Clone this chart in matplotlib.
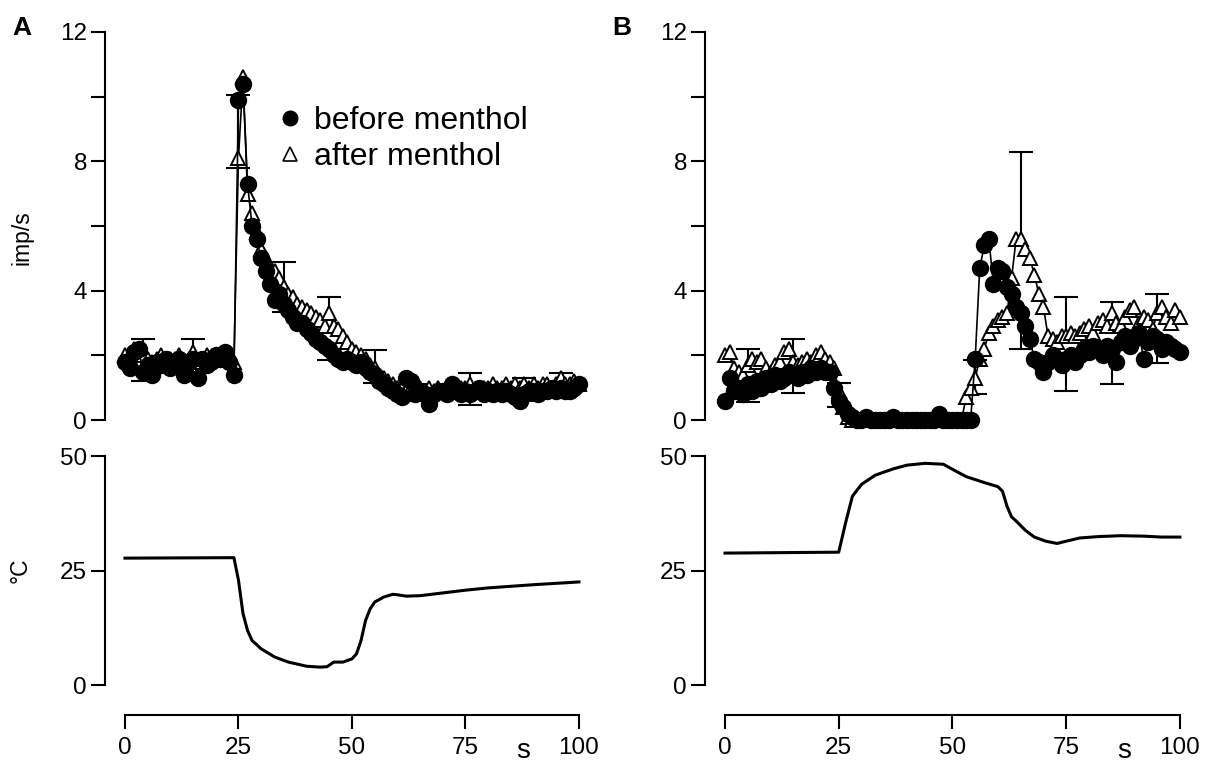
import numpy as np
import matplotlib
matplotlib.use("Agg")
import matplotlib.pyplot as plt
from matplotlib.lines import Line2D

plt.rcParams['font.family'] = ['Liberation Sans', 'DejaVu Sans']

# ---------------- data ----------------
# Panel A: impulse rate (imp/s), 1-s bins from 0 to 100 s
A_BEFORE = [1.8, 1.6, 2.1, 2.2, 1.5, 1.7, 1.4, 1.8, 1.7, 1.9,
            1.6, 1.8, 1.9, 1.4, 1.8, 1.9, 1.3, 1.9, 1.7, 1.8,
            2.0, 1.9, 2.1, 1.8, 1.4,
            9.9, 10.4, 7.3, 6.0, 5.6, 5.0, 4.6, 4.2, 3.7, 3.9,
            3.6, 3.4, 3.2, 3.0, 3.0, 2.8, 2.7, 2.5, 2.4, 2.3,
            2.2, 2.0, 1.9, 1.8, 1.9, 1.8, 1.7, 1.8, 1.6, 1.5,
            1.4, 1.2, 1.1, 1.0, 0.9, 0.8, 0.7, 1.3, 1.2, 0.8,
            0.9, 0.8, 0.5, 0.8, 0.9, 0.9, 0.8, 1.1, 0.9, 0.8,
            0.9, 0.8, 0.9, 1.0, 0.8, 0.9, 0.8, 0.9, 0.8, 0.9,
            0.8, 0.7, 0.6, 0.8, 0.9, 0.9, 0.8, 0.9, 0.9, 1.0,
            0.9, 1.0, 0.9, 0.9, 1.0, 1.1]
A_AFTER = [2.0, 1.9, 2.2, 1.8, 2.0, 1.9, 1.8, 1.9, 2.0, 1.8,
           1.9, 1.9, 2.0, 1.8, 1.9, 2.1, 1.8, 1.9, 2.0, 1.9,
           1.9, 2.0, 1.9, 1.9, 1.8,
           8.1, 10.6, 7.0, 6.4, 5.8, 5.3, 5.0, 4.7, 4.6, 4.4,
           4.1, 3.9, 3.8, 3.6, 3.5, 3.4, 3.3, 3.2, 3.1, 2.9,
           3.3, 2.9, 2.8, 2.6, 2.4, 2.2, 2.1, 2.0, 1.9, 1.7,
           1.6, 1.4, 1.3, 1.2, 1.1, 1.0,
           1.0, 0.9, 1.0, 0.9, 1.0, 0.9, 1.0, 0.9, 1.0, 0.9,
           1.0, 1.0, 0.9, 1.0, 1.0, 1.1, 0.9, 1.0, 1.0, 1.0,
           1.1, 1.0, 1.0, 1.1, 1.0, 1.1, 1.0, 1.1, 1.0, 1.1,
           1.0, 1.1, 1.1, 1.0, 1.1, 1.3, 1.1, 1.1, 1.2, 1.1]

# error bars for panel A (before: downward SEM, after: upward SEM)
ERR_T_A = [4, 15, 25, 35, 45, 55, 64, 76, 88, 96]
ERR_A_BEFORE = [0.3, 0.45, 2.1, 0.25, 0.35, 0.25, 0.2, 0.35, 0.2, 0.2]
ERR_A_AFTER = [0.5, 0.4, 1.96, 0.8, 0.5, 0.55, 0.2, 0.35, 0.2, 0.15]

# Panel B
B_BEFORE = [0.6, 1.3, 0.9, 1.0, 0.8, 1.1, 0.9, 1.2, 1.0, 1.3,
            1.1, 1.4, 1.2, 1.3, 1.5, 1.4, 1.3, 1.5, 1.4, 1.6,
            1.5, 1.6, 1.5, 1.5, 1.0, 0.6,
            0.4, 0.2, 0.1, 0.0, 0.0, 0.1, 0.0, 0.0, 0.0, 0.0,
            0.0, 0.1, 0.0, 0.0, 0.0, 0.0, 0.0, 0.0, 0.0, 0.0,
            0.0, 0.2, 0.0, 0.0, 0.0, 0.0, 0.0, 0.0, 0.0,
            1.9, 4.7, 5.4, 5.6, 4.2, 4.7, 4.6, 4.1, 3.9, 3.5,
            3.3, 2.9, 2.5, 1.9, 1.8, 1.5, 1.8, 2.0, 1.9, 1.7,
            1.9, 2.0, 1.8, 2.0, 2.2, 2.1, 2.3, 2.2, 2.0, 2.3,
            2.2, 1.8, 2.4, 2.6, 2.3, 2.5, 2.7, 1.9, 2.4, 2.6,
            2.5, 2.2, 2.4, 2.3, 2.2, 2.1]
B_AFTER = [2.0, 2.1, 1.6, 1.5, 1.4, 1.7, 1.9, 1.8, 1.9, 1.6,
           1.5, 1.7, 1.8, 2.1, 2.2, 1.8, 1.7, 1.8, 1.9, 1.8,
           2.0, 2.1, 1.9, 1.8, 1.6, 0.9,
           0.4, 0.1, 0.0, 0.0, 0.0, 0.0, 0.0, 0.0, 0.0, 0.0,
           0.0, 0.0, 0.0, 0.0, 0.0, 0.0, 0.0, 0.0, 0.0, 0.0,
           0.0, 0.0, 0.0, 0.0, 0.0, 0.0, 0.0,
           0.7, 1.0, 1.3, 1.9, 2.2, 2.7, 2.9, 3.1, 3.2, 3.3,
           4.4, 5.6, 5.6, 5.3, 5.0, 4.5, 3.9, 3.5, 2.6, 2.5,
           2.4, 2.6, 2.6, 2.7, 2.6, 2.7, 2.8, 2.9, 2.7, 3.0,
           3.1, 2.9, 3.3, 3.0, 2.9, 3.2, 3.4, 3.5, 3.0, 3.2,
           3.1, 2.8, 3.3, 3.5, 3.2, 3.0, 3.4, 3.2]

ERR_T_B = [5, 15, 25, 35, 45, 55, 65, 75, 85, 95]
ERR_B_BEFORE = [0.55, 0.55, 0.2, 0.0, 0.0, 1.1, 1.1, 1.0, 1.1, 0.75]
ERR_B_AFTER = [0.5, 0.7, 0.25, 0.0, 0.0, 0.55, 2.7, 1.2, 0.35, 0.6]

# Stimulus temperature (deg C)
TEMP_A_T = [0, 24, 25, 26, 27, 28, 30, 33, 36, 40, 43, 44.5, 46, 48, 50,
            51, 52, 53, 54, 55, 57, 59, 60, 62, 65, 70, 75, 80, 90, 100]
TEMP_A = [27.7, 27.8, 22.9, 15.6, 11.9, 9.7, 7.9, 6.1, 5.0, 4.1, 3.9, 4.0,
          5.0, 5.0, 5.7, 6.8, 9.7, 14.1, 16.6, 18.1, 19.2, 19.8, 19.7, 19.4,
          19.5, 20.1, 20.7, 21.2, 21.9, 22.5]
TEMP_B_T = [0, 25, 26.5, 28, 30, 33, 37, 40, 44, 48, 50, 53, 57, 60, 61,
            62, 63, 64, 66, 68, 70.5, 73, 75, 78, 82, 87, 92, 96, 100]
TEMP_B = [28.8, 29.0, 35.4, 41.2, 43.8, 45.8, 47.2, 48.0, 48.4, 48.2, 47.1,
          45.5, 44.2, 43.3, 42.3, 39.0, 36.7, 35.8, 33.8, 32.3, 31.4, 30.9,
          31.4, 32.1, 32.4, 32.6, 32.5, 32.3, 32.3]

RATE_TICKS = [0, 4, 8, 12]
RATE_MINOR = [2, 6, 10]
TEMP_TICKS = [0, 25, 50]
TIME_TICKS = [0, 25, 50, 75, 100]

# ---------------- figure ----------------
W, H = 1209, 765
fig = plt.figure(figsize=(W / 100, H / 100), dpi=100)
XL = (-4.4, 102)


def px_axes(left, top, right, bottom):
    return fig.add_axes([left / W, 1 - bottom / H, (right - left) / W, (bottom - top) / H])


def style_rate(ax):
    ax.set_xlim(*XL)
    ax.set_ylim(0, 12)
    for s in ['top', 'right', 'bottom']:
        ax.spines[s].set_visible(False)
    ax.spines['left'].set_linewidth(1.5)
    ax.set_xticks([])
    ax.set_yticks(RATE_TICKS)
    ax.set_yticks(RATE_MINOR, minor=True)
    ax.tick_params(axis='y', which='both', direction='out', length=10,
                   width=1.5, labelsize=17.5, pad=3)


def style_temp(ax):
    ax.set_xlim(*XL)
    ax.set_ylim(0, 50)
    for s in ['top', 'right']:
        ax.spines[s].set_visible(False)
    ax.spines['left'].set_linewidth(1.5)
    ax.spines['bottom'].set_linewidth(1.5)
    ax.spines['bottom'].set_position(('outward', 21.6))
    ax.spines['bottom'].set_bounds(0, 100)
    ax.set_xticks(TIME_TICKS)
    ax.set_yticks(TEMP_TICKS)
    ax.tick_params(axis='y', which='both', direction='out', length=10,
                   width=1.5, labelsize=17.5, pad=3)
    ax.tick_params(axis='x', which='both', direction='out', length=10,
                   width=1.5, labelsize=17.5, pad=6)


def draw_rate(ax, before, after, err_t, err_b, err_a):
    tb = np.arange(len(before))
    ta = np.arange(len(after))
    before = np.asarray(before)
    after = np.asarray(after)
    cap = 2.65
    for t, eb, ea in zip(err_t, err_b, err_a):
        if eb > 0:
            y0 = before[t]
            ax.vlines(t, y0 - eb, y0, color='black', lw=1.5, zorder=2)
            ax.hlines(y0 - eb, t - cap, t + cap, color='black', lw=1.5, zorder=2)
        if ea > 0:
            y0 = after[t]
            ax.vlines(t, y0, y0 + ea, color='black', lw=1.5, zorder=2)
            ax.hlines(y0 + ea, t - cap, t + cap, color='black', lw=1.5, zorder=2)
    ax.plot(ta, after, '-', color='black', lw=1.2, marker='^', ms=9.5,
            mfc='white', mec='black', mew=1.4, zorder=3, clip_on=False)
    ax.plot(tb, before, '-', color='black', lw=1.2, marker='o', ms=11.5,
            mfc='black', mec='black', zorder=4, clip_on=False)


# Panel A
axA = px_axes(105, 32, 588, 420)
style_rate(axA)
draw_rate(axA, A_BEFORE, A_AFTER, ERR_T_A, ERR_A_BEFORE, ERR_A_AFTER)
axAT = px_axes(105, 456, 588, 685)
style_temp(axAT)
axAT.plot(TEMP_A_T, TEMP_A, color='black', lw=2.2, solid_joinstyle='round')

# Panel B
axB = px_axes(705, 32, 1189, 420)
style_rate(axB)
draw_rate(axB, B_BEFORE, B_AFTER, ERR_T_B, ERR_B_BEFORE, ERR_B_AFTER)
axBT = px_axes(705, 456, 1189, 685)
style_temp(axBT)
axBT.plot(TEMP_B_T, TEMP_B, color='black', lw=2.2, solid_joinstyle='round')

# Legend
handles = [Line2D([], [], ls='none', marker='o', ms=10.5, mfc='black', mec='black'),
           Line2D([], [], ls='none', marker='^', ms=9.5, mfc='white', mec='black', mew=1.2)]
fig.legend(handles, ['before menthol', 'after menthol'], loc='center left',
           bbox_to_anchor=(276 / W, 1 - 139 / H), frameon=False, fontsize=23,
           handlelength=0.9, handletextpad=0.3, borderpad=0, borderaxespad=0,
           labelspacing=0.2)

# Texts
fig.text(12 / W, 1 - 28 / H, 'A', fontsize=19, fontweight='bold', ha='left', va='center')
fig.text(612 / W, 1 - 28 / H, 'B', fontsize=19, fontweight='bold', ha='left', va='center')
fig.text(22 / W, 1 - 238 / H, 'imp/s', fontsize=16.5, rotation=90, ha='center', va='center')
fig.text(20 / W, 1 - 570 / H, '°C', fontsize=16.5, rotation=90, ha='center', va='center')
fig.text(523 / W, 1 - 758 / H, 's', fontsize=20, ha='center', va='baseline')
fig.text(1124 / W, 1 - 758 / H, 's', fontsize=20, ha='center', va='baseline')

fig.savefig('out.png', dpi=100)
